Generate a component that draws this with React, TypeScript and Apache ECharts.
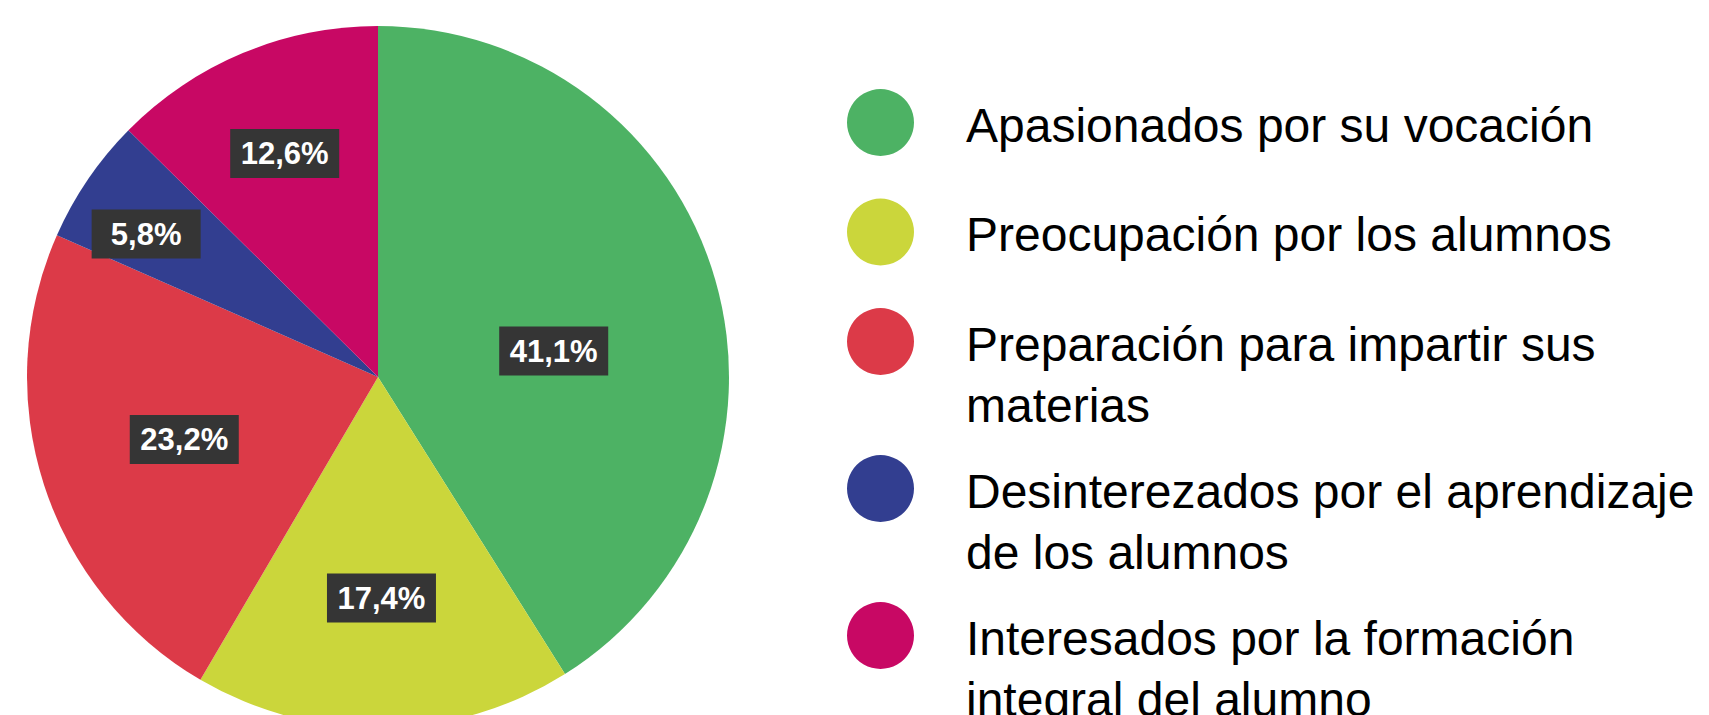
import React, { useEffect, useRef } from "react";
import * as echarts from "echarts";

const categories = [
  "Apasionados por su vocación",
  "Preocupación por los alumnos",
  "Preparación para impartir sus materias",
  "Desinterezados por el aprendizaje de los alumnos",
  "Interesados por la formación integral del alumno",
];
const values = [41.1, 17.4, 23.2, 5.8, 12.6];
const colors = ["#4db264", "#cbd63b", "#dc3a48", "#323e90", "#c80864"];

// layout settings
const W = 1709;
const H = 715;
const CX = 378;
const CY = 377;
const R = 351;
const labelRadiusFrac = [0.506, 0.63, 0.58, 0.776, 0.69];
const labelAngleShiftDeg = [7.7, 0, 0, -2.6, 0];

const LEG_FONT = 48;
const LEG_LINE = 61;
const LEG_WRAP = 745;
const LEG_ICON = 67;
const LEG_LEFT = 847;
const LEG_TEXT_X = 966;
const LEG_FIRST_CENTER = 122.5;
const LEG_STEP = 109.5;
const LEG_EXTRA_LINE_STEP = 37.5;

function wrapText(text: string): string[] {
  const ctx = document.createElement("canvas").getContext("2d");
  if (!ctx) return [text];
  ctx.font = `${LEG_FONT}px "Liberation Sans"`;
  const words = text.split(" ");
  const lines: string[] = [];
  let cur = "";
  for (const w of words) {
    const t = cur ? cur + " " + w : w;
    if (ctx.measureText(t).width > LEG_WRAP && cur) {
      lines.push(cur);
      cur = w;
    } else cur = t;
  }
  if (cur) lines.push(cur);
  return lines;
}

export default function App() {
  const ref = useRef<HTMLDivElement>(null);
  useEffect(() => {
    if (!ref.current) return;
    const chart = echarts.init(ref.current, null, { renderer: "svg" });

    const total = values.reduce((a, b) => a + b, 0);
    const mids: number[] = [];
    let acc = 0;
    values.forEach((v) => {
      mids.push(((acc + v / 2) / total) * 2 * Math.PI);
      acc += v;
    });

    const textStyleBase = {
      fontFamily: "Liberation Sans",
      fontSize: LEG_FONT,
      lineHeight: LEG_LINE,
      color: "#000",
    };

    const wrapped = categories.map(wrapText);
    const legends: any[] = [];
    let c = LEG_FIRST_CENTER;
    wrapped.forEach((lines, i) => {
      const n = lines.length;
      const padTop = 5 + (n - 1) * LEG_LINE;
      const blockH = n * LEG_LINE + padTop;
      const top = c - LEG_ICON / 2 + Math.min(0, LEG_ICON / 2 - blockH / 2);
      legends.push({
        show: true,
        orient: "vertical",
        left: LEG_LEFT,
        top,
        padding: 0,
        selectedMode: false,
        icon: "circle",
        itemWidth: LEG_ICON,
        itemHeight: LEG_ICON,
        data: [categories[i]],
        formatter: () => lines.map((l) => `{t|${l}}`).join("\n"),
        textStyle: {
          ...textStyleBase,
          backgroundColor: "transparent",
          padding: [padTop, 0, 0, LEG_TEXT_X - (LEG_LEFT + LEG_ICON + 5)],
          rich: { t: { ...textStyleBase } },
        },
      });
      c += LEG_STEP + (n - 1) * LEG_EXTRA_LINE_STEP;
    });

    chart.setOption({
      animation: false,
      backgroundColor: "#ffffff",
      legend: legends,
      series: [
        {
          type: "pie",
          center: [CX, CY],
          radius: R,
          startAngle: 90,
          clockwise: true,
          silent: true,
          emphasis: { disabled: true },
          labelLine: { show: false },
          label: {
            show: true,
            position: "inside",
            formatter: (p: any) => p.value.toFixed(1).replace(".", ",") + "%",
            color: "#ffffff",
            fontFamily: "Liberation Sans",
            fontWeight: "bold",
            fontSize: 31,
            lineHeight: 33,
            width: 89,
            align: "center",
            backgroundColor: "#353535",
            padding: [8, 10],
          },
          labelLayout: (p: any) => {
            const i = p.dataIndex;
            const a = mids[i] + (labelAngleShiftDeg[i] * Math.PI) / 180;
            const r = R * labelRadiusFrac[i];
            return {
              x: CX + r * Math.sin(a),
              y: CY - r * Math.cos(a),
              align: "center",
              verticalAlign: "middle",
            };
          },
          data: categories.map((name, i) => ({
            name,
            value: values[i],
            itemStyle: { color: colors[i] },
          })),
        },
      ],
    });
    return () => chart.dispose();
  }, []);
  return (
    <div
      ref={ref}
      style={{ position: "absolute", left: 0, top: 0, width: W, height: H, background: "#fff" }}
    />
  );
}
